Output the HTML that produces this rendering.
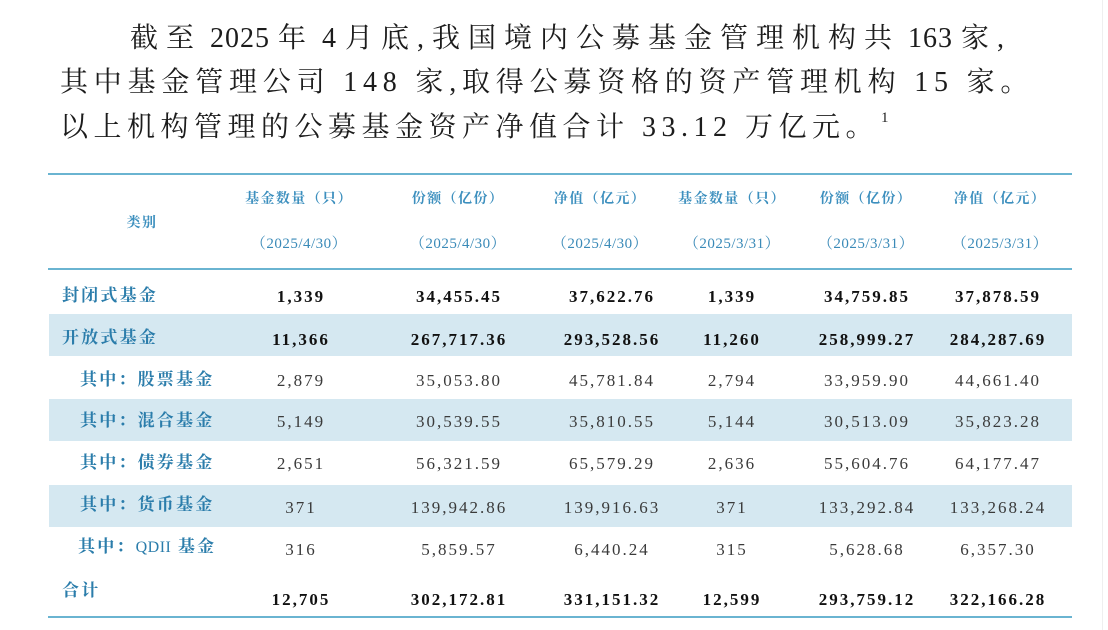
<!DOCTYPE html>
<html><head><meta charset="utf-8">
<style>
html,body{margin:0;padding:0;}
body{width:1108px;height:630px;position:relative;overflow:hidden;background:#fff;}
.p{position:absolute;font-family:"Liberation Serif","Noto Serif CJK SC",serif;font-size:28px;color:#1c1c1c;letter-spacing:5.5px;height:45px;line-height:45px;white-space:nowrap;}
.d{letter-spacing:1px;}
.sup{position:absolute;left:881px;top:110px;font-family:"Liberation Serif",serif;font-size:15px;color:#222;}
.hl{position:absolute;left:48px;width:1024px;height:2px;background:#6ab4d1;}
.band{position:absolute;left:49px;width:1023px;background:#d5e8f1;}
.c{position:absolute;text-align:center;white-space:nowrap;}
.h1{font-family:"Noto Serif CJK SC",serif;font-weight:700;font-size:14px;letter-spacing:1.4px;color:#3c8fbe;height:30px;line-height:30px;width:160px;}
.h2{font-family:"Liberation Serif","Noto Serif CJK SC",serif;font-size:15px;letter-spacing:0.5px;color:#3a8ab8;height:30px;line-height:30px;width:160px;}
.lab{position:absolute;font-family:"Liberation Serif","Noto Serif CJK SC",serif;font-weight:700;font-size:17px;letter-spacing:2.2px;color:#2b7dab;height:30px;line-height:30px;white-space:nowrap;}
.q{font-weight:400;letter-spacing:0.5px;font-size:16px;}
.n{font-family:"Liberation Serif",serif;font-size:17px;letter-spacing:2px;color:#3a3a3a;height:30px;line-height:30px;width:160px;}
.b{font-weight:700;color:#111;}
.vr{position:absolute;left:1102px;top:0;width:1px;height:630px;background:#efefef;}
</style></head>
<body>
<div class="vr"></div>

<div class="p" style="left:130px;top:16px;letter-spacing:8px;">截至<span class="d"> 2025 </span>年<span class="d"> 4 </span>月底,我国境内公募基金管理机构共<span class="d"> 163 </span>家,</div>
<div class="p" style="left:60px;top:60px;letter-spacing:5.8px;">其中基金管理公司 148 家,取得公募资格的资产管理机构 15 家。</div>
<div class="p" style="left:60px;top:105px;">以上机构管理的公募基金资产净值合计 33.12 万亿元。</div>
<div class="sup">1</div>

<div class="hl" style="top:173px;"></div>
<div class="hl" style="top:268px;"></div>
<div class="hl" style="top:616px;"></div>

<div class="band" style="top:314px;height:42px;"></div>
<div class="band" style="top:399px;height:42px;"></div>
<div class="band" style="top:485px;height:42px;"></div>

<!-- header -->
<div class="c h1" style="left:62px;top:207px;width:160px;">类别</div>
<div class="c h1" style="left:219px;top:183px;">基金数量（只）</div>
<div class="c h1" style="left:378px;top:183px;">份额（亿份）</div>
<div class="c h1" style="left:520px;top:183px;">净值（亿元）</div>
<div class="c h1" style="left:652px;top:183px;">基金数量（只）</div>
<div class="c h1" style="left:786px;top:183px;">份额（亿份）</div>
<div class="c h1" style="left:920px;top:183px;">净值（亿元）</div>

<div class="c h2" style="left:219px;top:229px;">（2025/4/30）</div>
<div class="c h2" style="left:378px;top:229px;">（2025/4/30）</div>
<div class="c h2" style="left:520px;top:229px;">（2025/4/30）</div>
<div class="c h2" style="left:652px;top:229px;">（2025/3/31）</div>
<div class="c h2" style="left:786px;top:229px;">（2025/3/31）</div>
<div class="c h2" style="left:920px;top:229px;">（2025/3/31）</div>

<!-- labels -->
<div class="lab" style="left:62px;top:281px;">封闭式基金</div>
<div class="lab" style="left:62px;top:323px;">开放式基金</div>
<div class="lab" style="left:80px;top:365px;">其中：股票基金</div>
<div class="lab" style="left:80px;top:406px;">其中：混合基金</div>
<div class="lab" style="left:80px;top:448px;">其中：债券基金</div>
<div class="lab" style="left:80px;top:490px;">其中：货币基金</div>
<div class="lab" style="left:78px;top:532px;">其中：<span class="q">QDII</span> 基金</div>
<div class="lab" style="left:62px;top:576px;">合计</div>

<!-- row 封闭 -->
<div class="c n b" style="left:221px;top:282px;">1,339</div>
<div class="c n b" style="left:379px;top:282px;">34,455.45</div>
<div class="c n b" style="left:532px;top:282px;">37,622.76</div>
<div class="c n b" style="left:652px;top:282px;">1,339</div>
<div class="c n b" style="left:787px;top:282px;">34,759.85</div>
<div class="c n b" style="left:918px;top:282px;">37,878.59</div>
<!-- row 开放 -->
<div class="c n b" style="left:221px;top:325px;">11,366</div>
<div class="c n b" style="left:379px;top:325px;">267,717.36</div>
<div class="c n b" style="left:532px;top:325px;">293,528.56</div>
<div class="c n b" style="left:652px;top:325px;">11,260</div>
<div class="c n b" style="left:787px;top:325px;">258,999.27</div>
<div class="c n b" style="left:918px;top:325px;">284,287.69</div>
<!-- 股票 -->
<div class="c n" style="left:221px;top:366px;">2,879</div>
<div class="c n" style="left:379px;top:366px;">35,053.80</div>
<div class="c n" style="left:532px;top:366px;">45,781.84</div>
<div class="c n" style="left:652px;top:366px;">2,794</div>
<div class="c n" style="left:787px;top:366px;">33,959.90</div>
<div class="c n" style="left:918px;top:366px;">44,661.40</div>
<!-- 混合 -->
<div class="c n" style="left:221px;top:407px;">5,149</div>
<div class="c n" style="left:379px;top:407px;">30,539.55</div>
<div class="c n" style="left:532px;top:407px;">35,810.55</div>
<div class="c n" style="left:652px;top:407px;">5,144</div>
<div class="c n" style="left:787px;top:407px;">30,513.09</div>
<div class="c n" style="left:918px;top:407px;">35,823.28</div>
<!-- 债券 -->
<div class="c n" style="left:221px;top:449px;">2,651</div>
<div class="c n" style="left:379px;top:449px;">56,321.59</div>
<div class="c n" style="left:532px;top:449px;">65,579.29</div>
<div class="c n" style="left:652px;top:449px;">2,636</div>
<div class="c n" style="left:787px;top:449px;">55,604.76</div>
<div class="c n" style="left:918px;top:449px;">64,177.47</div>
<!-- 货币 -->
<div class="c n" style="left:221px;top:493px;">371</div>
<div class="c n" style="left:379px;top:493px;">139,942.86</div>
<div class="c n" style="left:532px;top:493px;">139,916.63</div>
<div class="c n" style="left:652px;top:493px;">371</div>
<div class="c n" style="left:787px;top:493px;">133,292.84</div>
<div class="c n" style="left:918px;top:493px;">133,268.24</div>
<!-- QDII -->
<div class="c n" style="left:221px;top:535px;">316</div>
<div class="c n" style="left:379px;top:535px;">5,859.57</div>
<div class="c n" style="left:532px;top:535px;">6,440.24</div>
<div class="c n" style="left:652px;top:535px;">315</div>
<div class="c n" style="left:787px;top:535px;">5,628.68</div>
<div class="c n" style="left:918px;top:535px;">6,357.30</div>
<!-- 合计 -->
<div class="c n b" style="left:221px;top:585px;">12,705</div>
<div class="c n b" style="left:379px;top:585px;">302,172.81</div>
<div class="c n b" style="left:532px;top:585px;">331,151.32</div>
<div class="c n b" style="left:652px;top:585px;">12,599</div>
<div class="c n b" style="left:787px;top:585px;">293,759.12</div>
<div class="c n b" style="left:918px;top:585px;">322,166.28</div>
</body></html>
